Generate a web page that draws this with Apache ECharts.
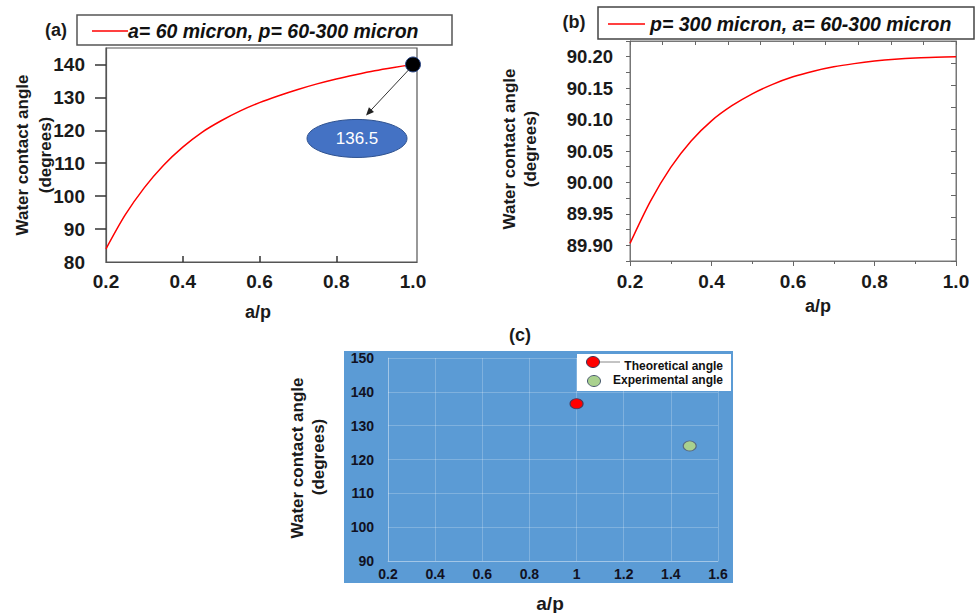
<!DOCTYPE html>
<html><head><meta charset="utf-8">
<script src="https://cdn.jsdelivr.net/npm/echarts@6/dist/echarts.min.js"></script>
<style>html,body{margin:0;padding:0;background:#fff}#c{width:976px;height:613px}</style>
</head><body><div id="c"></div>
<script>
// ---- Panel (a): a = 60 micron, p = 60-300 micron
const apA    = [0.2, 0.25, 0.3, 0.35, 0.4, 0.45, 0.5, 0.55, 0.6, 0.65, 0.7, 0.75, 0.8, 0.85, 0.9, 0.95, 1.0];
const angleA = [84.0, 94.3, 102.6, 109.4, 114.9, 119.4, 122.9, 125.9, 128.4, 130.5, 132.4, 134.1, 135.6, 136.9, 138.1, 139.1, 140.0];
const highlightA = [1.0, 140];
const highlightLabel = '136.5';
const ticksAX = [0.2, 0.4, 0.6, 0.8, 1.0];
const ticksAY = [80, 90, 100, 110, 120, 130, 140];
// ---- Panel (b): p = 300 micron, a = 60-300 micron
const apB    = [0.2, 0.25, 0.3, 0.35, 0.4, 0.45, 0.5, 0.55, 0.6, 0.65, 0.7, 0.75, 0.8, 0.85, 0.9, 0.95, 1.0];
const angleB = [89.903, 89.970, 90.024, 90.066, 90.098, 90.122, 90.141, 90.156, 90.168, 90.177, 90.184, 90.189, 90.193, 90.196, 90.198, 90.199, 90.200];
const ticksBY = [89.90, 89.95, 90.00, 90.05, 90.10, 90.15, 90.20];
const minorBY = [89.875, 89.9, 89.925, 89.95, 89.975, 90.0, 90.025, 90.05, 90.075, 90.1, 90.125, 90.15, 90.175, 90.2, 90.225];
const topTicksB = [0.2, 0.28, 0.36, 0.44, 0.52, 0.6, 0.68, 0.76, 0.84, 0.92, 1.0];
const rightTicksB = [89.875, 89.91, 89.945, 89.98, 90.015, 90.05, 90.085, 90.12, 90.155, 90.19, 90.225];
// ---- Panel (c): theoretical vs experimental
const theoretical  = [[1.0, 136.5]];
const experimental = [[1.48, 124]];
const nameA = 'a= 60 micron, p= 60-300 micron';
const nameB = 'p= 300 micron, a= 60-300 micron';

const FF = '"Liberation Sans", Arial, sans-serif';
const zip = (xs, ys) => xs.map((x, i) => [x, ys[i]]);
const lbl = (size, extra) => Object.assign({fontFamily: FF, fontSize: size, fontWeight: 'bold', color: '#1a1a1a'}, extra || {});

const chart = echarts.init(document.getElementById('c'), null, {renderer: 'svg'});
const option = {
  animation: false,
  backgroundColor: '#fff',
  grid: [
    {left: 106, top: 48, width: 311, height: 214, show: true, borderColor: '#555', borderWidth: 1.2, containLabel: false},
    {left: 630, top: 41, width: 326, height: 220, show: true, borderColor: '#777', borderWidth: 1},
    {left: 388, top: 358, width: 330, height: 203}
  ],
  xAxis: [
    {type: 'value', gridIndex: 0, min: 0.2, max: 1.0104,
      axisLine: {lineStyle: {color: '#555', width: 1.2}},
      axisTick: {inside: true, length: 6, customValues: [0.4, 0.6, 0.8], lineStyle: {color: '#333', width: 1.5}},
      axisLabel: lbl(19, {customValues: ticksAX, margin: 10, formatter: v => v.toFixed(1)}),
      splitLine: {show: false}},
    {type: 'value', gridIndex: 1, min: 0.2, max: 1.0, interval: 0.2,
      axisLine: {lineStyle: {color: '#777'}},
      axisTick: {length: 5, lineStyle: {color: '#666'}},
      minorTick: {show: true, splitNumber: 2, length: 3, lineStyle: {color: '#666'}},
      axisLabel: lbl(19, {margin: 11, formatter: v => v.toFixed(1)}),
      splitLine: {show: false}},
    {type: 'value', gridIndex: 1, position: 'top', min: 0.2, max: 1.0,
      axisLine: {show: true, lineStyle: {color: '#777'}},
      axisTick: {inside: true, length: 4, customValues: topTicksB, lineStyle: {color: '#666'}},
      axisLabel: {show: false}, splitLine: {show: false}},
    {type: 'value', gridIndex: 2, min: 0.2, max: 1.6, interval: 0.2,
      axisLine: {show: true, lineStyle: {color: 'rgba(255,255,255,0.28)'}},
      axisTick: {show: false},
      axisLabel: lbl(14, {margin: 6, color: '#111122'}),
      splitLine: {show: true, lineStyle: {color: 'rgba(255,255,255,0.22)'}}}
  ],
  yAxis: [
    {type: 'value', gridIndex: 0, min: 80, max: 145,
      axisLine: {show: true, lineStyle: {color: '#555', width: 1.2}},
      axisTick: {show: true, length: 11, customValues: [90, 100, 110, 120, 130, 140], lineStyle: {color: '#333', width: 1.5}},
      axisLabel: lbl(19, {customValues: ticksAY, margin: 21}),
      splitLine: {show: false}},
    {type: 'value', gridIndex: 1, min: 89.875, max: 90.225,
      axisLine: {show: true, lineStyle: {color: '#777'}},
      axisTick: {show: true, length: 4, customValues: minorBY, lineStyle: {color: '#666'}},
      axisLabel: lbl(18.5, {customValues: ticksBY, margin: 17, formatter: v => v.toFixed(2)}),
      splitLine: {show: false}},
    {type: 'value', gridIndex: 1, position: 'right', min: 89.875, max: 90.225,
      axisLine: {show: true, lineStyle: {color: '#777'}},
      axisTick: {show: true, inside: true, length: 5, customValues: rightTicksB, lineStyle: {color: '#666'}},
      axisLabel: {show: false}, splitLine: {show: false}},
    {type: 'value', gridIndex: 2, min: 90, max: 150, interval: 10,
      axisLine: {show: true, lineStyle: {color: 'rgba(255,255,255,0.28)'}},
      axisTick: {show: false},
      axisLabel: lbl(14, {margin: 14, color: '#111122'}),
      splitLine: {show: true, lineStyle: {color: 'rgba(255,255,255,0.22)'}}}
  ],
  series: [
    {name: nameA, type: 'line', xAxisIndex: 0, yAxisIndex: 0, data: zip(apA, angleA), smooth: 0.3,
      symbol: 'none', lineStyle: {color: '#ff0000', width: 1.5}, itemStyle: {color: '#ff0000'}, z: 3},
    {name: 'highlight', type: 'scatter', xAxisIndex: 0, yAxisIndex: 0, data: [highlightA], symbolSize: 15,
      itemStyle: {color: '#000', borderColor: '#2E4A8A', borderWidth: 1, opacity: 1}, z: 5},
    {name: nameB, type: 'line', xAxisIndex: 1, yAxisIndex: 1, data: zip(apB, angleB), smooth: 0.3,
      symbol: 'none', lineStyle: {color: '#ff0000', width: 1.5}, itemStyle: {color: '#ff0000'}, z: 3},
    {name: 'Theoretical angle', type: 'scatter', xAxisIndex: 3, yAxisIndex: 3, data: theoretical, symbol: 'circle', symbolSize: [13, 10],
      itemStyle: {color: '#ff0000', borderColor: '#4a3a5a', borderWidth: 1, opacity: 1}, z: 5},
    {name: 'Experimental angle', type: 'scatter', xAxisIndex: 3, yAxisIndex: 3, data: experimental, symbol: 'circle', symbolSize: [13, 10],
      itemStyle: {color: '#A9D18E', borderColor: '#5a6a80', borderWidth: 1, opacity: 1}, z: 5}
  ]
};
chart.setOption(option);

// annotation anchored to the highlighted data point of panel (a)
const p = chart.convertToPixel({xAxisIndex: 0, yAxisIndex: 0}, highlightA);
const a0 = [p[0] - 4, p[1] + 5], a1 = [p[0] - 47, p[1] + 51];
const dx = a1[0] - a0[0], dy = a1[1] - a0[1], L = Math.hypot(dx, dy);
const ux = dx / L, uy = dy / L, hl = 8, hw = 3.5;
const head = [a1, [a1[0] - ux * hl - uy * hw, a1[1] - uy * hl + ux * hw], [a1[0] - ux * hl + uy * hw, a1[1] - uy * hl - ux * hw]];
const ec = [p[0] - 56, p[1] + 74];

const vtext = (x, y, t, size) => ({type: 'text', x: x, y: y, rotation: Math.PI / 2,
  style: {text: t, fontFamily: FF, fontSize: size, fontWeight: 'bold', fill: '#1a1a1a', align: 'center', verticalAlign: 'middle'}});
const htext = (x, y, t, size, extra) => ({type: 'text', x: x, y: y,
  style: Object.assign({text: t, fontFamily: FF, fontSize: size, fontWeight: 'bold', fill: '#1a1a1a', align: 'center', verticalAlign: 'middle'}, extra || {})});

const graphics = [
  // panel (c) background
  {type: 'rect', z: -10, shape: {x: 344, y: 351, width: 389, height: 232}, style: {fill: '#5B9BD5'}},
  // panel labels
  htext(56, 30, '(a)', 18), htext(574, 22, '(b)', 18), htext(520, 335, '(c)', 18),
  // legend (a)
  {type: 'rect', shape: {x: 77, y: 15, width: 375, height: 30}, style: {fill: '#fff', stroke: '#555', lineWidth: 1.5}},
  {type: 'line', shape: {x1: 92, y1: 31, x2: 128, y2: 31}, style: {stroke: '#ff0000', lineWidth: 1.5}},
  htext(128, 31, nameA, 19.5, {align: 'left', fontStyle: 'italic', fill: '#111'}),
  // legend (b)
  {type: 'rect', shape: {x: 598, y: 7, width: 376, height: 32}, style: {fill: '#fff', stroke: '#444', lineWidth: 1.5}},
  {type: 'line', shape: {x1: 608, y1: 24, x2: 645, y2: 24}, style: {stroke: '#ff0000', lineWidth: 1.5}},
  htext(650, 24, nameB, 19.5, {align: 'left', fontStyle: 'italic', fill: '#111'}),
  // legend (c)
  {type: 'rect', shape: {x: 577, y: 354, width: 154, height: 37}, style: {fill: '#fff'}},
  {type: 'line', shape: {x1: 599, y1: 362, x2: 620, y2: 362}, style: {stroke: '#888', lineWidth: 1}},
  {type: 'ellipse', shape: {cx: 593, cy: 362, rx: 6.5, ry: 5.5}, style: {fill: '#ff0000', stroke: '#3a3a5a', lineWidth: 1}},
  {type: 'ellipse', shape: {cx: 594, cy: 381, rx: 6.5, ry: 5.5}, style: {fill: '#A9D18E', stroke: '#4a5a70', lineWidth: 1}},
  htext(723, 366, 'Theoretical angle', 12, {align: 'right', fill: '#111'}),
  htext(723, 380, 'Experimental angle', 12, {align: 'right', fill: '#111'}),
  // axis names
  vtext(22.5, 155, 'Water contact angle', 17), vtext(45, 155, '(degrees)', 17),
  vtext(509, 149, 'Water contact angle', 17), vtext(530, 149, '(degrees)', 17),
  vtext(297, 458, 'Water contact angle', 17), vtext(318, 457, '(degrees)', 17),
  htext(258, 312, 'a/p', 18), htext(818, 306, 'a/p', 18), htext(550, 603, 'a/p', 19),
  // annotation arrow and callout
  {type: 'line', z: 10, shape: {x1: a0[0], y1: a0[1], x2: a1[0] - ux * 4, y2: a1[1] - uy * 4}, style: {stroke: '#333', lineWidth: 1}},
  {type: 'polygon', z: 10, shape: {points: head}, style: {fill: '#222'}},
  {type: 'ellipse', z: 10, shape: {cx: ec[0], cy: ec[1], rx: 50, ry: 19}, style: {fill: '#4472C4', stroke: '#2F528F', lineWidth: 1}},
  {type: 'text', z: 11, x: ec[0], y: ec[1], style: {text: highlightLabel, fontFamily: FF, fontSize: 17, fill: '#fff', align: 'center', verticalAlign: 'middle'}}
];
chart.setOption({graphic: {elements: graphics}});
</script>
</body></html>
